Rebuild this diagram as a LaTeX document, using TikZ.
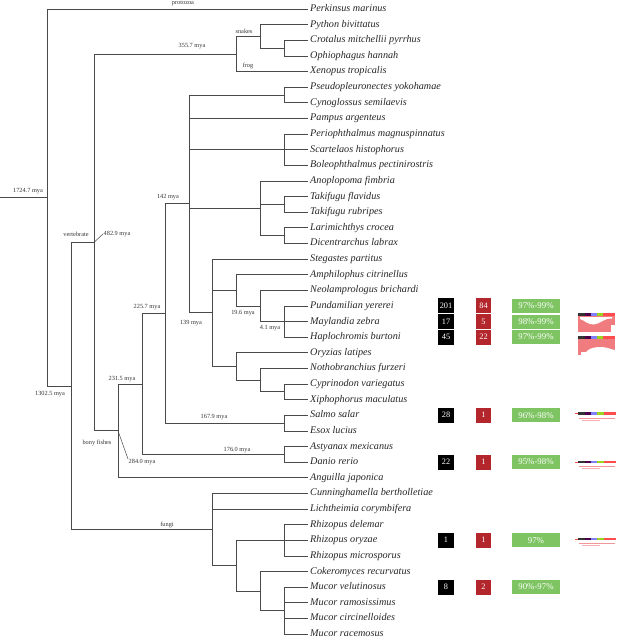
\documentclass[tikz,border=0pt]{standalone}
\usepackage{fontspec}
\setmainfont{Liberation Serif}
\definecolor{cntred}{HTML}{B3262C}
\definecolor{pctgreen}{HTML}{7EC462}
\definecolor{thpink}{HTML}{F07C80}
\definecolor{brgray}{HTML}{4A4A4A}
\begin{document}
\begin{tikzpicture}[x=1pt,y=-1pt,
  br/.style={line width=0.75pt, draw=brgray},
  leaf/.style={anchor=west, font=\fontsize{10.2}{12}\selectfont\itshape, inner sep=2pt, text height=7pt, text depth=2pt, text=black!85},
  lab/.style={font=\fontsize{6.3}{7}\selectfont, inner sep=0.5pt, text=black!80},
  cnt/.style={minimum width=16pt, minimum height=15pt, inner sep=0pt, fill=black, text=white, font=\fontsize{8.3}{9}\selectfont},
  rcnt/.style={minimum width=15pt, minimum height=15pt, inner sep=0pt, fill=cntred, text=white, font=\fontsize{8.3}{9}\selectfont},
  pct/.style={minimum width=48pt, minimum height=14pt, inner sep=0pt, fill=pctgreen, text=white, font=\fontsize{8.8}{9}\selectfont},
]
\useasboundingbox (0,0) rectangle (617,639);

% leaves
\node[leaf] (l1) at (308,9) {Perkinsus marinus};
\node[leaf] (l2) at (308,24.6) {Python bivittatus};
\node[leaf] (l3) at (308,40.25) {Crotalus mitchellii pyrrhus};
\node[leaf] (l4) at (308,55.9) {Ophiophagus hannah};
\node[leaf] (l5) at (308,71.5) {Xenopus tropicalis};
\node[leaf] (l6) at (308,87.1) {Pseudopleuronectes yokohamae};
\node[leaf] (l7) at (308,102.75) {Cynoglossus semilaevis};
\node[leaf] (l8) at (308,118.4) {Pampus argenteus};
\node[leaf] (l9) at (308,134) {Periophthalmus magnuspinnatus};
\node[leaf] (l10) at (308,149.6) {Scartelaos histophorus};
\node[leaf] (l11) at (308,165.25) {Boleophthalmus pectinirostris};
\node[leaf] (l12) at (308,180.9) {Anoplopoma fimbria};
\node[leaf] (l13) at (308,196.5) {Takifugu flavidus};
\node[leaf] (l14) at (308,212.1) {Takifugu rubripes};
\node[leaf] (l15) at (308,227.75) {Larimichthys crocea};
\node[leaf] (l16) at (308,243.4) {Dicentrarchus labrax};
\node[leaf] (l17) at (308,259) {Stegastes partitus};
\node[leaf] (l18) at (308,274.6) {Amphilophus citrinellus};
\node[leaf] (l19) at (308,290.25) {Neolamprologus brichardi};
\node[leaf] (l20) at (308,305.9) {Pundamilian yererei};
\node[leaf] (l21) at (308,321.5) {Maylandia zebra};
\node[leaf] (l22) at (308,337.1) {Haplochromis burtoni};
\node[leaf] (l23) at (308,352.75) {Oryzias latipes};
\node[leaf] (l24) at (308,368.4) {Nothobranchius furzeri};
\node[leaf] (l25) at (308,384) {Cyprinodon variegatus};
\node[leaf] (l26) at (308,399.6) {Xiphophorus maculatus};
\node[leaf] (l27) at (308,415.25) {Salmo salar};
\node[leaf] (l28) at (308,430.9) {Esox lucius};
\node[leaf] (l29) at (308,446.5) {Astyanax mexicanus};
\node[leaf] (l30) at (308,462.1) {Danio rerio};
\node[leaf] (l31) at (308,477.75) {Anguilla japonica};
\node[leaf] (l32) at (308,493.4) {Cunninghamella bertholletiae};
\node[leaf] (l33) at (308,509) {Lichtheimia corymbifera};
\node[leaf] (l34) at (308,524.6) {Rhizopus delemar};
\node[leaf] (l35) at (308,540.25) {Rhizopus oryzae};
\node[leaf] (l36) at (308,555.9) {Rhizopus microsporus};
\node[leaf] (l37) at (308,571.5) {Cokeromyces recurvatus};
\node[leaf] (l38) at (308,587.1) {Mucor velutinosus};
\node[leaf] (l39) at (308,602.75) {Mucor ramosissimus};
\node[leaf] (l40) at (308,618.4) {Mucor circinelloides};
\node[leaf] (l41) at (308,634) {Mucor racemosus};

% internal nodes
\coordinate (start) at (0,197.5);
\coordinate (R) at (47,197.5);
\coordinate (N1) at (71,385.9);
\coordinate (V) at (94,242.35);
\coordinate (T) at (236,53.9);
\coordinate (S) at (260,36.3);
\coordinate (S2) at (284,48.1);
\coordinate (Bf) at (118,430.8);
\coordinate (N231) at (142,383.9);
\coordinate (N225) at (165,313.45);
\coordinate (N142) at (189,203.8);
\coordinate (Fl) at (284,94.9);
\coordinate (Md) at (284,149.6);
\coordinate (An) at (260,208.25);
\coordinate (Tk) at (284,204.3);
\coordinate (Lr) at (284,235.6);
\coordinate (N139) at (212,312.7);
\coordinate (A19) at (236,290.25);
\coordinate (B19) at (260,305.9);
\coordinate (C4) at (284,321.5);
\coordinate (D) at (236,366.4);
\coordinate (E) at (260,380.1);
\coordinate (F) at (284,391.8);
\coordinate (SE) at (284,423.1);
\coordinate (AD) at (284,454.3);
\coordinate (Fu) at (212,529.5);
\coordinate (G) at (236,565.6);
\coordinate (Rh) at (284,540.25);
\coordinate (H) at (260,591);
\coordinate (Mu) at (284,610.55);

% branches
\draw[br] (start) -- (R);
\draw[br] (R) |- (l1.west);
\draw[br] (R) |- (N1);
\draw[br] (N1) |- (V);
\draw[br] (N1) |- (Fu);
\draw[br] (V) |- (T);
\draw[br] (V) |- (Bf);
\draw[br] (T) |- (S);
\draw[br] (T) |- (l5.west);
\draw[br] (S) |- (l2.west);
\draw[br] (S) |- (S2);
\draw[br] (S2) |- (l3.west);
\draw[br] (S2) |- (l4.west);
\draw[br] (Bf) |- (N231);
\draw[br] (Bf) |- (l31.west);
\draw[br] (N231) |- (N225);
\draw[br] (N231) |- (AD);
\draw[br] (AD) |- (l29.west);
\draw[br] (AD) |- (l30.west);
\draw[br] (N225) |- (N142);
\draw[br] (N225) |- (SE);
\draw[br] (SE) |- (l27.west);
\draw[br] (SE) |- (l28.west);
\draw[br] (N142) |- (Fl);
\draw[br] (N142) |- (l8.west);
\draw[br] (N142) |- (Md);
\draw[br] (N142) |- (An);
\draw[br] (N142) |- (N139);
\draw[br] (Fl) |- (l6.west);
\draw[br] (Fl) |- (l7.west);
\draw[br] (Md) |- (l9.west);
\draw[br] (Md) |- (l10.west);
\draw[br] (Md) |- (l11.west);
\draw[br] (An) |- (l12.west);
\draw[br] (An) |- (Tk);
\draw[br] (An) |- (Lr);
\draw[br] (Tk) |- (l13.west);
\draw[br] (Tk) |- (l14.west);
\draw[br] (Lr) |- (l15.west);
\draw[br] (Lr) |- (l16.west);
\draw[br] (N139) |- (l17.west);
\draw[br] (N139) |- (A19);
\draw[br] (N139) |- (D);
\draw[br] (A19) |- (l18.west);
\draw[br] (A19) |- (B19);
\draw[br] (B19) |- (l19.west);
\draw[br] (B19) |- (C4);
\draw[br] (C4) |- (l20.west);
\draw[br] (C4) |- (l21.west);
\draw[br] (C4) |- (l22.west);
\draw[br] (D) |- (l23.west);
\draw[br] (D) |- (E);
\draw[br] (E) |- (l24.west);
\draw[br] (E) |- (F);
\draw[br] (F) |- (l25.west);
\draw[br] (F) |- (l26.west);
\draw[br] (Fu) |- (l32.west);
\draw[br] (Fu) |- (l33.west);
\draw[br] (Fu) |- (G);
\draw[br] (G) |- (Rh);
\draw[br] (G) |- (H);
\draw[br] (Rh) |- (l34.west);
\draw[br] (Rh) |- (l35.west);
\draw[br] (Rh) |- (l36.west);
\draw[br] (H) |- (l37.west);
\draw[br] (H) |- (Mu);
\draw[br] (Mu) |- (l38.west);
\draw[br] (Mu) |- (l39.west);
\draw[br] (Mu) |- (l40.west);
\draw[br] (Mu) |- (l41.west);

% branch labels
\node[lab] (tprot) at (183,3) {protozoa};
\node[lab] (t1724) at (28,191) {1724.7 mya};
\node[lab] (t355) at (192,46) {355.7 mya};
\node[lab] (tsnk) at (244,31) {snakes};
\node[lab] (tfrog) at (248,66) {frog};
\node[lab] (tvert) at (76,234.5) {vertebrate};
\node[lab, anchor=west] (t482) at (103,234) {482.9 mya};
\draw[brgray, line width=0.5pt] (V) -- (t482.west);
\node[lab] (t142) at (168,197) {142 mya};
\node[lab] (t225) at (147,307) {225.7 mya};
\node[lab] (t139) at (191,323) {139 mya};
\node[lab] (t196) at (243,313) {19.6 mya};
\node[lab] (t41) at (270,328.5) {4.1 mya};
\node[lab] (t231) at (122,379) {231.5 mya};
\node[lab] (t1302) at (50,394.5) {1302.5 mya};
\node[lab] (t167) at (214,417) {167.9 mya};
\node[lab] (t176) at (237,450) {176.0 mya};
\node[lab] (tbony) at (97,443) {bony fishes};
\node[lab, anchor=north west] (t284) at (128,459) {284.0 mya};
\draw[brgray, line width=0.5pt] (Bf) -- (t284.north west);
\node[lab] (tfun) at (167,524.5) {fungi};

% count boxes
\node[cnt] (c20) at (446,305.9) {201};
\node[rcnt] (r20) at (483.5,305.9) {84};
\node[pct] (p20) at (536,305.9) {97\%-99\%};
\node[cnt] (c21) at (446,321.5) {17};
\node[rcnt] (r21) at (483.5,321.5) {5};
\node[pct] (p21) at (536,321.5) {98\%-99\%};
\node[cnt] (c22) at (446,337.1) {45};
\node[rcnt] (r22) at (483.5,337.1) {22};
\node[pct] (p22) at (536,337.1) {97\%-99\%};
\node[cnt] (c27) at (446,415.25) {28};
\node[rcnt] (r27) at (483.5,415.25) {1};
\node[pct] (p27) at (536,415.25) {96\%-98\%};
\node[cnt] (c30) at (446,462.1) {22};
\node[rcnt] (r30) at (483.5,462.1) {1};
\node[pct] (p30) at (536,462.1) {95\%-98\%};
\node[cnt] (c35) at (446,540.25) {1};
\node[rcnt] (r35) at (483.5,540.25) {1};
\node[pct] (p35) at (536,540.25) {97\%};
\node[cnt] (c38) at (446,587.1) {8};
\node[rcnt] (r38) at (483.5,587.1) {2};
\node[pct] (p38) at (536,587.1) {90\%-97\%};

% thumbnails
\foreach \yb in {313,336} {
  \foreach \c/\a/\b in {black!80/0/7, violet!60!black/7/13, blue!50/13/19, yellow!60!green/19/25, red!70/25/37}
    \fill[\c] (578+\a,\yb) rectangle (578+\b,\yb+2.5);
}
\fill[thpink] (578,316) rectangle (615,332);
\fill[white] (580,317) -- (612,317) -- (612,318.5) .. controls (604,318) and (600,324) .. (594,324.5) .. controls (588,325) and (584,320) .. (580,319) -- cycle;
\fill[white] (611,325) rectangle (615,332);
\fill[thpink] (578,339) rectangle (615,352);
\fill[thpink] (578,352) rectangle (581,355);
\fill[white] (586,352) .. controls (590,347) and (600,346) .. (608,348) .. controls (611,349) and (613,350) .. (615,350) -- (615,352) -- cycle;
\foreach \yb in {412,460.5,537.5} {
  \foreach \c/\a/\b in {black!80/0/7, violet!60!black/7/13, blue!50/13/19, yellow!60!green/19/26, red!70/26/38}
    \fill[\c] (578+\a,\yb) rectangle (578+\b,\yb+2.5);
  \draw[red!70, line width=0.4pt] (575,\yb+1.2) -- (578,\yb+1.2);
  \fill[thpink!80] (579,\yb+5.5) rectangle (615,\yb+6.5);
  \fill[thpink!60] (582,\yb+7.5) rectangle (600,\yb+8.2);
}
\end{tikzpicture}
\end{document}
